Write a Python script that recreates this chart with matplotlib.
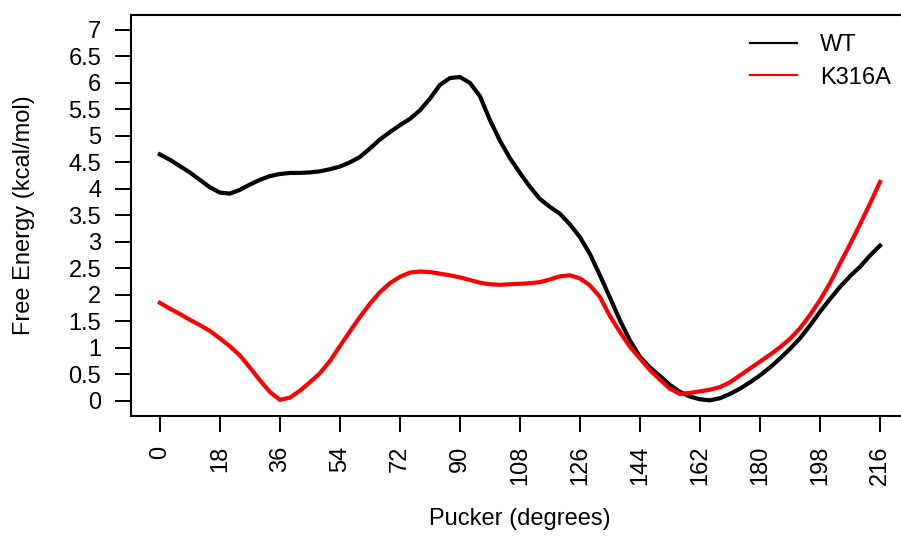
import numpy as np
import matplotlib
matplotlib.use('Agg')
import matplotlib.pyplot as plt
from matplotlib.lines import Line2D

plt.rcParams['font.family'] = ['Liberation Sans', 'DejaVu Sans']

# Pucker angle (degrees) and free energy profiles (kcal/mol)
pucker = list(range(0, 217, 3))
wt = [4.65, 4.55, 4.43, 4.31, 4.17, 4.03, 3.93, 3.91, 3.98, 4.08,
      4.17, 4.24, 4.28, 4.30, 4.30, 4.31, 4.33, 4.37, 4.42, 4.50,
      4.60, 4.76, 4.93, 5.07, 5.20, 5.32, 5.48, 5.70, 5.96, 6.09,
      6.11, 6.00, 5.75, 5.30, 4.91, 4.58, 4.30, 4.04, 3.81, 3.66,
      3.53, 3.33, 3.09, 2.77, 2.37, 1.95, 1.52, 1.14, 0.83, 0.63,
      0.47, 0.30, 0.17, 0.08, 0.03, 0.01, 0.05, 0.13, 0.23, 0.35,
      0.48, 0.63, 0.80, 0.98, 1.18, 1.42, 1.68, 1.92, 2.15, 2.35,
      2.53, 2.74, 2.93]
k316a = [1.85, 1.74, 1.64, 1.53, 1.43, 1.32, 1.18, 1.03, 0.86, 0.63,
         0.39, 0.17, 0.02, 0.06, 0.19, 0.35, 0.52, 0.75, 1.03, 1.31,
         1.58, 1.83, 2.05, 2.22, 2.34, 2.42, 2.44, 2.43, 2.40, 2.37,
         2.33, 2.28, 2.23, 2.20, 2.19, 2.20, 2.21, 2.22, 2.24, 2.29,
         2.35, 2.37, 2.31, 2.18, 1.96, 1.60, 1.30, 1.02, 0.80, 0.58,
         0.40, 0.23, 0.13, 0.15, 0.18, 0.21, 0.26, 0.35, 0.48, 0.61,
         0.74, 0.87, 1.01, 1.17, 1.37, 1.62, 1.90, 2.22, 2.59, 2.95,
         3.33, 3.72, 4.13]

xticks = list(range(0, 217, 18))
yticks = np.arange(0, 7.01, 0.5)
ytick_labels = ['%g' % v for v in yticks]

fig = plt.figure(figsize=(9.01, 5.37), dpi=100)
ax = fig.add_axes([131 / 901, 1 - 415.7 / 537, (908.8 - 131) / 901, (415.7 - 15) / 537])

ax.plot(pucker, wt, color='black', lw=3.0, solid_joinstyle='round')
ax.plot(pucker, k316a, color='#ff0000', lw=3.0, solid_joinstyle='round')

ax.set_xlim(-8.64, 224.64)
ax.set_ylim(-0.28, 7.28)
ax.set_xticks(xticks)
ax.set_xticklabels([str(t) for t in xticks], rotation=90)
ax.set_yticks(yticks)
ax.set_yticklabels(ytick_labels)
ax.tick_params(axis='both', direction='out', length=11.5, width=1.4,
               labelsize=17, pad=10)
for side in ['left', 'bottom', 'top', 'right']:
    ax.spines[side].set_linewidth(1.5)

ax.set_xlabel('Pucker (degrees)', fontsize=17)
ax.xaxis.set_label_coords(0.5, -0.23)
fig.text(24 / 901, 1 - 215 / 537, 'Free Energy (kcal/mol)', fontsize=17,
         rotation=90, ha='center', va='center')

handles = [Line2D([], [], color='black', lw=1.6),
           Line2D([], [], color='#ff0000', lw=1.6)]
fig.legend(handles, ['WT', 'K316A'], loc='upper left',
           bbox_to_anchor=(750 / 901, 1 - 34 / 537), frameon=False,
           fontsize=17, handlelength=2.0, handletextpad=0.97,
           labelspacing=0.45, borderpad=0, borderaxespad=0)

fig.savefig('out.png', dpi=100)
